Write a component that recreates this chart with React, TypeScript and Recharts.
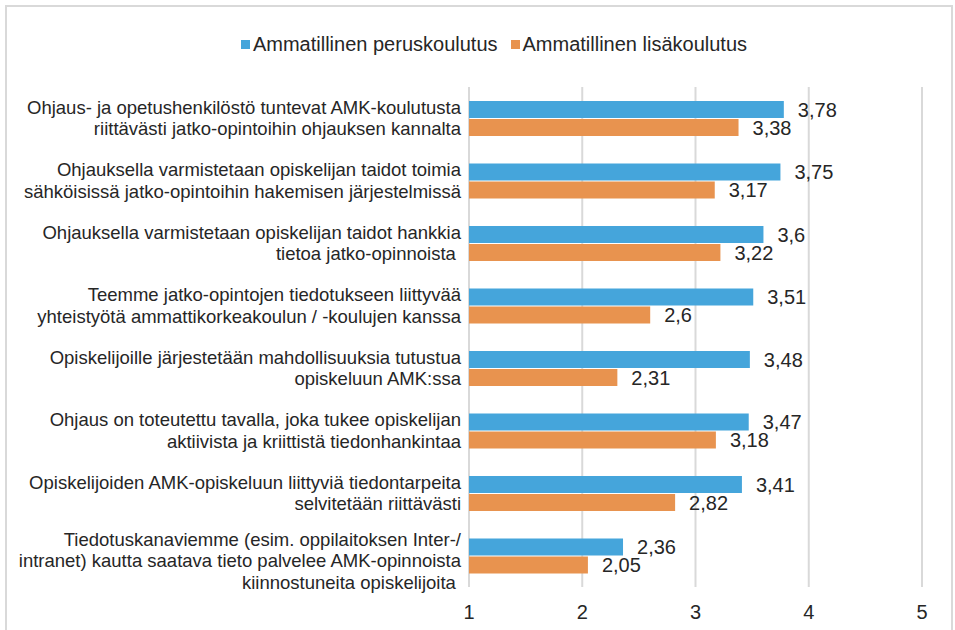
import React from 'react';
import { BarChart, Bar, XAxis, YAxis, CartesianGrid, Legend, LabelList } from 'recharts';

const categories = [
  'Ohjaus- ja opetushenkilöstö tuntevat AMK-koulutusta\nriittävästi jatko-opintoihin ohjauksen kannalta',
  'Ohjauksella varmistetaan opiskelijan taidot toimia\nsähköisissä jatko-opintoihin hakemisen järjestelmissä',
  'Ohjauksella varmistetaan opiskelijan taidot hankkia\ntietoa jatko-opinnoista ',
  'Teemme jatko-opintojen tiedotukseen liittyvää\nyhteistyötä ammattikorkeakoulun / -koulujen kanssa',
  'Opiskelijoille järjestetään mahdollisuuksia tutustua\nopiskeluun AMK:ssa',
  'Ohjaus on toteutettu tavalla, joka tukee opiskelijan\naktiivista ja kriittistä tiedonhankintaa',
  'Opiskelijoiden AMK-opiskeluun liittyviä tiedontarpeita\nselvitetään riittävästi',
  'Tiedotuskanaviemme (esim. oppilaitoksen Inter-/\nintranet) kautta saatava tieto palvelee AMK-opinnoista\nkiinnostuneita opiskelijoita ',
];
const peruskoulutus = [3.78, 3.75, 3.6, 3.51, 3.48, 3.47, 3.41, 2.36];
const lisakoulutus = [3.38, 3.17, 3.22, 2.6, 2.31, 3.18, 2.82, 2.05];
const xTicks = [1, 2, 3, 4, 5];
const seriesNames = ['Ammatillinen peruskoulutus', 'Ammatillinen lisäkoulutus'];

const BLUE = '#45A5DB';
const ORANGE = '#E8934F';
const TEXT = '#262626';
const FONT = '"Liberation Sans", Arial, sans-serif';

const data = categories.map((name, i) => ({
  name,
  peruskoulutus: peruskoulutus[i],
  lisakoulutus: lisakoulutus[i],
}));

const fmt = (v: any) => String(v).replace('.', ',');

const CategoryTick = (props: any) => {
  const { x, y, payload } = props;
  const lines = String(payload.value).split('\n');
  const lh = 21.5;
  const shift = lines.length === 3 ? 5 : 0;
  const start = y - ((lines.length - 1) * lh) / 2 + shift;
  return (
    <g>
      {lines.map((l: string, i: number) => (
        <text
          key={i}
          x={x}
          y={start + i * lh}
          dy="0.35em"
          textAnchor="end"
          fill={TEXT}
          fontSize={18.5}
          fontFamily={FONT}
          style={{ whiteSpace: 'pre' }}
        >
          {l}
        </text>
      ))}
    </g>
  );
};

const LegendContent = () => (
  <div style={{ display: 'flex', justifyContent: 'center', alignItems: 'center', fontFamily: FONT, fontSize: 20, color: TEXT, height: 24, paddingLeft: 66 }}>
    {seriesNames.map((n, i) => (
      <div key={n} style={{ display: 'flex', alignItems: 'center', marginRight: i === 0 ? 13 : 0 }}>
        <span style={{ display: 'inline-block', width: 9, height: 9, background: i === 0 ? BLUE : ORANGE, marginRight: 3 }} />
        <span>{n}</span>
      </div>
    ))}
  </div>
);

export default function App() {
  return (
    <div style={{ position: 'absolute', left: 0, top: 0, width: 955, height: 630, overflow: 'hidden', background: '#fff' }}>
      <div style={{ position: 'absolute', left: 5, top: 5, width: 944, height: 640, border: '2px solid #d9d9d9' }} />
      <div style={{ position: 'absolute', left: 0, top: 0 }}>
        <BarChart
          width={955}
          height={630}
          data={data}
          layout="vertical"
          margin={{ top: 63, right: 33, bottom: 13, left: 0 }}
          barSize={17}
          barGap={1}
        >
          <Legend
            verticalAlign="top"
            align="center"
            content={<LegendContent />}
            wrapperStyle={{ top: 32, height: 24 }}
          />
          <CartesianGrid horizontal={false} vertical={true} stroke="#d9d9d9" strokeWidth={2} />
          <XAxis
            type="number"
            domain={[1, 5]}
            ticks={xTicks}
            axisLine={false}
            tickLine={false}
            height={30}
            tickMargin={12}
            tick={{ fill: TEXT, fontSize: 20, fontFamily: FONT }}
            allowDataOverflow
          />
          <YAxis
            type="category"
            dataKey="name"
            width={469}
            axisLine={false}
            tickLine={false}
            tick={<CategoryTick />}
            tickMargin={2}
            interval={0}
          />
          <Bar dataKey="peruskoulutus" name={seriesNames[0]} fill={BLUE} isAnimationActive={false}>
            <LabelList dataKey="peruskoulutus" position="right" offset={14} formatter={fmt} fill={TEXT} fontSize={20} fontFamily={FONT} />
          </Bar>
          <Bar dataKey="lisakoulutus" name={seriesNames[1]} fill={ORANGE} isAnimationActive={false}>
            <LabelList dataKey="lisakoulutus" position="right" offset={14} formatter={fmt} fill={TEXT} fontSize={20} fontFamily={FONT} />
          </Bar>
        </BarChart>
      </div>
    </div>
  );
}
